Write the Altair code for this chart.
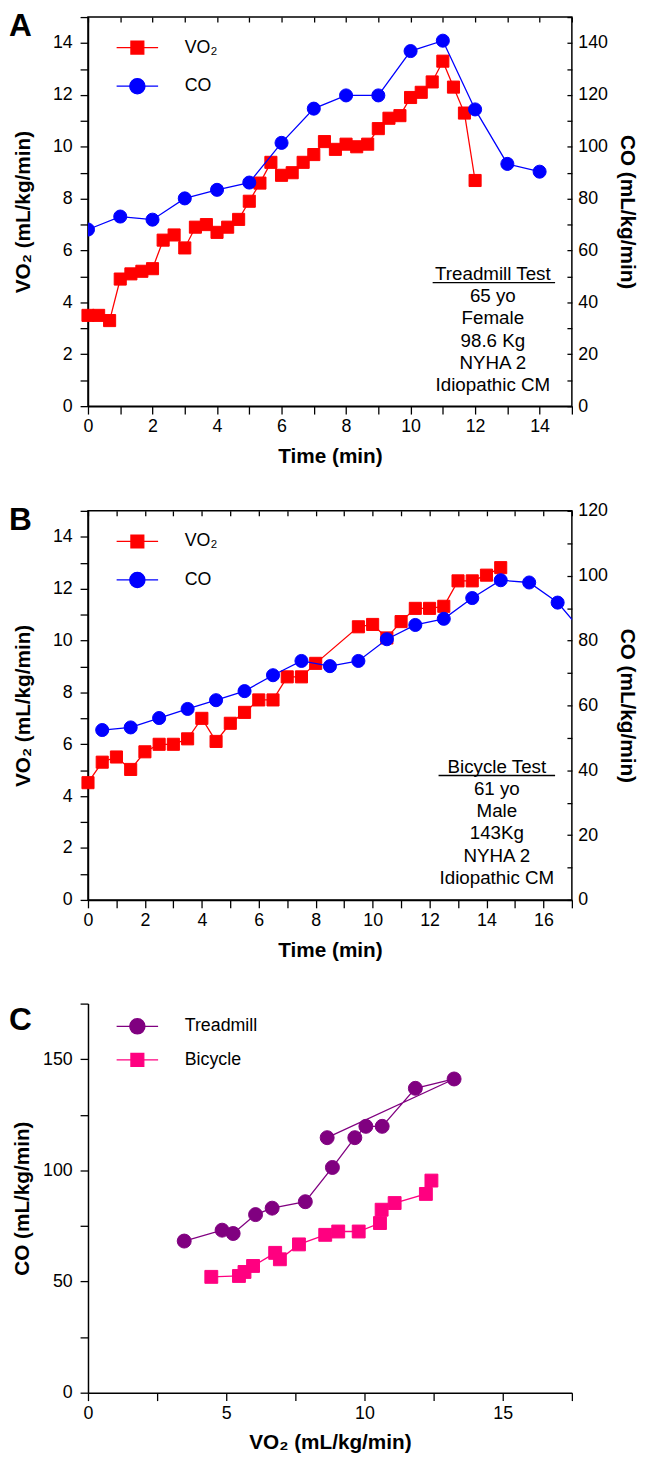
import altair as alt
import pandas as pd

# ---------------- data ----------------
# Panel A : treadmill test
a_vo2_time = [0, 0.33, 0.67, 1, 1.33, 1.67, 2, 2.33, 2.67, 3, 3.33, 3.67, 4, 4.33, 4.67,
              5, 5.33, 5.67, 6, 6.33, 6.67, 7, 7.33, 7.67, 8, 8.33, 8.67, 9, 9.33, 9.67,
              10, 10.33, 10.67, 11, 11.33, 11.67, 12]
a_vo2 = [3.5, 3.5, 3.3, 4.9, 5.1, 5.2, 5.3, 6.4, 6.6, 6.1, 6.9, 7.0, 6.7, 6.9, 7.2,
         7.9, 8.6, 9.4, 8.9, 9.0, 9.4, 9.7, 10.2, 9.9, 10.1, 10.0, 10.1, 10.7, 11.1, 11.2,
         11.9, 12.1, 12.5, 13.3, 12.3, 11.3, 8.7]
a_co_time = [0, 1, 2, 3, 4, 5, 6, 7, 8, 9, 10, 11, 12, 13, 14]
a_co = [68.1, 73.1, 71.9, 80.1, 83.4, 86.2, 101.5, 114.7, 119.8, 119.8, 136.9, 140.9,
        114.4, 93.4, 90.4]
a_note = ["Treadmill Test", "65 yo", "Female", "98.6 Kg", "NYHA 2", "Idiopathic CM"]

# Panel B : bicycle test
b_vo2_time = [0, 0.5, 1, 1.5, 2, 2.5, 3, 3.5, 4, 4.5, 5, 5.5, 6, 6.5, 7, 7.5, 8,
              9.5, 10, 10.5, 11, 11.5, 12, 12.5, 13, 13.5, 14, 14.5]
b_vo2 = [4.52, 5.31, 5.51, 5.03, 5.71, 6.0, 6.0, 6.21, 7.0, 6.11, 6.81, 7.23, 7.71, 7.71,
         8.6, 8.6, 9.12, 10.53, 10.62, 10.1, 10.73, 11.24, 11.24, 11.32, 12.3, 12.3,
         12.52, 12.81]
b_co_time = [0.5, 1.5, 2.5, 3.5, 4.5, 5.5, 6.5, 7.5, 8.5, 9.5, 10.5, 11.5, 12.5, 13.5,
             14.5, 15.5, 16.5, 17.5]
b_co = [52.4, 53.2, 56.1, 58.9, 61.6, 64.4, 69.3, 73.7, 72.1, 73.7, 80.4, 84.8, 86.7,
        93.1, 98.6, 97.9, 91.7, 81.3]
b_note = ["Bicycle Test", "61 yo", "Male", "143Kg", "NYHA 2", "Idiopathic CM"]

# Panel C : CO versus VO2
c_tread_vo2 = [3.48, 4.85, 5.25, 6.06, 6.66, 7.86, 8.84, 9.65, 10.05, 10.64, 11.84, 13.24, 8.65]
c_tread_co = [68.2, 73.1, 71.6, 80.1, 83.0, 85.9, 101.3, 114.7, 119.8, 119.8, 136.9, 141.1, 114.7]
c_bike_vo2 = [4.46, 5.46, 5.66, 5.97, 6.77, 6.94, 7.63, 8.58, 9.05, 9.79, 10.56, 10.62,
              11.09, 12.22, 12.42]
c_bike_co = [52.1, 52.5, 54.3, 57.0, 62.9, 60.0, 66.7, 71.0, 72.5, 72.5, 76.3, 82.3,
             85.3, 89.4, 95.4]

# ---------------- styling ----------------
FONT = "Liberation Sans"
RED, BLUE, PURPLE, PINK = "#ff0000", "#0000ff", "#800080", "#ff0080"
W, H = 490, 394
SQ_PATH = "M-3,0H3M-0.93,-0.93H0.93V0.93H-0.93Z"
CI_PATH = "M-3,0H3M-1.1,0A1.1,1.1,0,1,1,1.1,0A1.1,1.1,0,1,1,-1.1,0Z"
ONE = pd.DataFrame({"k": [0]})


def every(n):
    return f"datum.value % {n} == 0 ? datum.label : ''"


def legend(sym, ly):
    return alt.Legend(title=None, orient="none", legendX=41, legendY=ly, symbolType=sym,
                      symbolSize=196, symbolStrokeWidth=1.3, labelFontSize=18,
                      labelFont=FONT, labelColor="black", labelOffset=39, padding=0)


def letter_layer(letter, ly):
    return alt.Chart(ONE).mark_text(text=letter, font=FONT, fontSize=32, fontWeight="bold",
                                    align="left", baseline="top", color="black").encode(
        x=alt.value(-80), y=alt.value(ly))


def dual_panel(letter, vt, vv, ct, cv, xmax, comax, note, note_xy, ul):
    dv = pd.DataFrame({"t": vt, "v": vv, "s": ["VO\u2082"] * len(vt)})
    dc = pd.DataFrame({"t": ct, "v": cv, "s": ["CO"] * len(ct)})
    xs = alt.Scale(domain=[0, xmax], nice=False, zero=False)
    ys = alt.Scale(domain=[0, 15], nice=False)
    cs = alt.Scale(domain=[0, comax], nice=False)
    xticks = list(range(0, xmax + 1))
    x_bottom = alt.Axis(title="Time (min)", values=xticks, labelExpr=every(2), orient="bottom")
    x_top = alt.Axis(title=None, values=xticks, labels=False, orient="top", domain=False,
                     tickSize=5, offset=-5)
    y_left = alt.Axis(title="VO\u2082 (mL/kg/min)", values=list(range(16)), labelExpr=every(2),
                      orient="left", labelPadding=8, titlePadding=19)
    y_right = alt.Axis(title="CO (mL/kg/min)", values=list(range(0, comax + 1, 10)),
                       labelExpr=every(20), orient="right", domain=False, tickSize=5,
                       offset=-5, labelPadding=6, titlePadding=9)
    vline = alt.Chart(dv).mark_line(color=RED, strokeWidth=1.3).encode(
        x=alt.X("t:Q", scale=xs, axis=x_bottom), y=alt.Y("v:Q", scale=ys, axis=y_left))
    vpts = alt.Chart(dv).mark_point(shape="square", filled=True, size=150, opacity=1,
                                    stroke=RED, strokeWidth=1).encode(
        x=alt.X("t:Q", scale=xs, axis=None), y=alt.Y("v:Q", scale=ys, axis=None),
        color=alt.Color("s:N", scale=alt.Scale(domain=["VO\u2082"], range=[RED]),
                        legend=legend(SQ_PATH, 22)))
    cline = alt.Chart(dc).mark_line(color=BLUE, strokeWidth=1.3, clip=True).encode(
        x=alt.X("t:Q", scale=xs, axis=x_top), y=alt.Y("v:Q", scale=cs, axis=y_right))
    cpts = alt.Chart(dc).mark_point(shape="circle", filled=True, size=175, opacity=1,
                                    stroke=BLUE, strokeWidth=1, clip=True).encode(
        x=alt.X("t:Q", scale=xs, axis=None), y=alt.Y("v:Q", scale=cs, axis=None),
        color=alt.Color("s:N", scale=alt.Scale(domain=["CO"], range=[BLUE]),
                        legend=legend(CI_PATH, 61)))
    note_layer = alt.Chart(ONE).mark_text(text=note, font=FONT, fontSize=19, align="center",
                                          baseline="middle", lineHeight=22.6,
                                          color="black").encode(
        x=alt.value(note_xy[0]), y=alt.value(note_xy[1]))
    ul_layer = alt.Chart(ONE).mark_rule(color="black", strokeWidth=1.3).encode(
        x=alt.value(ul[0]), x2=alt.value(ul[1]), y=alt.value(ul[2]))
    return alt.layer(vline, vpts, cline, cpts, note_layer, ul_layer,
                     letter_layer(letter, -6)).resolve_scale(
        y="independent", color="independent").resolve_axis(
        x="independent", y="independent").properties(width=W, height=H)


panel_a = dual_panel("A", a_vo2_time, a_vo2, a_co_time, a_co, 15, 150, a_note,
                     (410, 260), (349, 473, 269))
panel_b = dual_panel("B", b_vo2_time, b_vo2, b_co_time, b_co, 17, 120, b_note,
                     (414, 259), (355, 473, 268))

# Panel C
dt = pd.DataFrame({"x": c_tread_vo2, "y": c_tread_co, "s": ["Treadmill"] * len(c_tread_vo2),
                   "i": list(range(len(c_tread_vo2)))})
db = pd.DataFrame({"x": c_bike_vo2, "y": c_bike_co, "s": ["Bicycle"] * len(c_bike_vo2),
                   "i": list(range(len(c_bike_vo2)))})
cxs = alt.Scale(domain=[0, 17.5], nice=False)
cys = alt.Scale(domain=[0, 175], nice=False)
cx_axis = alt.Axis(title="VO\u2082 (mL/kg/min)", values=[0, 2.5, 5, 7.5, 10, 12.5, 15, 17.5],
                   labelExpr=every(5), orient="bottom")
cy_axis = alt.Axis(title="CO (mL/kg/min)", values=[0, 25, 50, 75, 100, 125, 150, 175],
                   labelExpr=every(50), orient="left", labelPadding=8, titlePadding=10)

t_line = alt.Chart(dt).mark_line(color=PURPLE, strokeWidth=1.3).encode(
    x=alt.X("x:Q", scale=cxs, axis=cx_axis), y=alt.Y("y:Q", scale=cys, axis=cy_axis),
    order="i:Q")
t_pts = alt.Chart(dt).mark_point(shape="circle", filled=True, size=200, opacity=1,
                                 stroke=PURPLE, strokeWidth=1).encode(
    x=alt.X("x:Q", scale=cxs, axis=None), y=alt.Y("y:Q", scale=cys, axis=None),
    color=alt.Color("s:N", scale=alt.Scale(domain=["Treadmill"], range=[PURPLE]),
                    legend=legend(CI_PATH, 14)))
b_line = alt.Chart(db).mark_line(color=PINK, strokeWidth=1.3).encode(
    x=alt.X("x:Q", scale=cxs, axis=None), y=alt.Y("y:Q", scale=cys, axis=None), order="i:Q")
b_pts = alt.Chart(db).mark_point(shape="square", filled=True, size=170, opacity=1,
                                 stroke=PINK, strokeWidth=1).encode(
    x=alt.X("x:Q", scale=cxs, axis=None), y=alt.Y("y:Q", scale=cys, axis=None),
    color=alt.Color("s:N", scale=alt.Scale(domain=["Bicycle"], range=[PINK]),
                    legend=legend(SQ_PATH, 48)))

panel_c = alt.layer(t_line, t_pts, b_line, b_pts, letter_layer("C", 2)).resolve_scale(
    color="independent").resolve_axis(x="independent", y="independent").properties(
    width=W, height=H, view=alt.ViewBackground(stroke="transparent"))

top_two = alt.vconcat(panel_a, panel_b, spacing=34)
chart = alt.vconcat(top_two, panel_c, spacing=33).properties(
    padding={"left": 0, "top": -10, "right": 3, "bottom": 0}
).configure_axis(
    labelFont=FONT, labelFontSize=18, labelColor="black",
    titleFont=FONT, titleFontSize=21, titleFontWeight="bold", titleColor="black",
    tickColor="black", domainColor="black", tickWidth=1.3, domainWidth=1.5,
    tickSize=8, labelPadding=4, grid=False, labelFlush=False, labelOverlap=False,
    titlePadding=10
).configure_view(stroke="black", strokeWidth=1.5)

chart.save("out.html", embed_options={"renderer": "svg", "actions": False})
